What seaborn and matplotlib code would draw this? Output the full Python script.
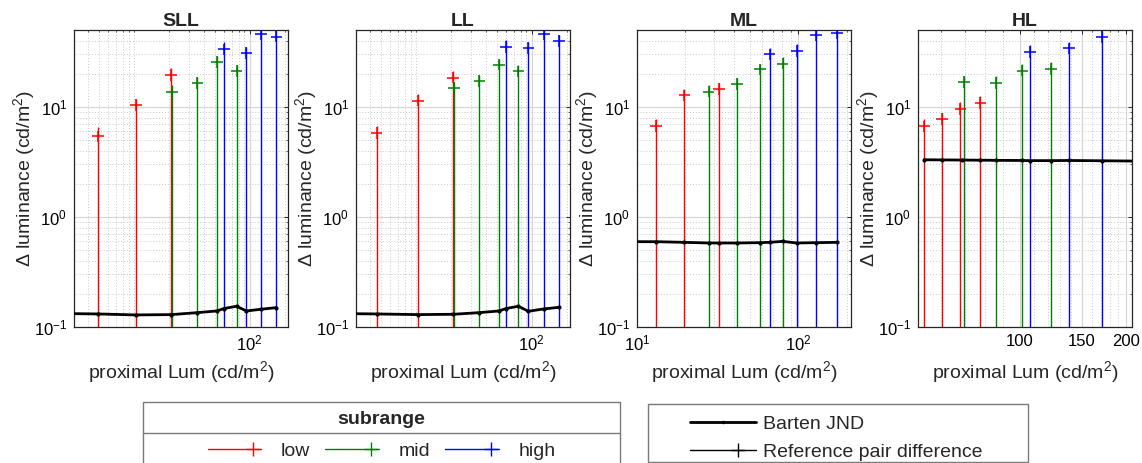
import numpy as np
import pandas as pd
import matplotlib
matplotlib.use("Agg")
import matplotlib.pyplot as plt
import seaborn as sns
from matplotlib.lines import Line2D
from matplotlib.patches import Rectangle
from matplotlib.legend_handler import HandlerBase
from matplotlib.ticker import FixedLocator, FixedFormatter, NullFormatter, LogLocator

# ---------------------------------------------------------------- data
panel_names = ["SLL", "LL", "ML", "HL"]

# reference pairs per luminance level: proximal luminance, difference,
# upper end of the error bar and the subrange of the pair
sll_lum = [4.92, 10.4, 21.0, 21.2, 35.4, 52.0, 59.7, 76.9, 93.7, 124.5, 170.0]
sll_diff = [5.4, 10.4, 19.6, 13.6, 16.6, 25.5, 33.3, 21.1, 31.1, 46.0, 43.5]
sll_top = [6.6, 11.9, 22.4, 15.7, 18.8, 29.0, 38.9, 24.2, 35.2, 53.0, 52.0]
sll_sub = ["low", "low", "low", "mid", "mid", "mid", "high", "mid", "high", "high", "high"]

ll_lum = [4.57, 10.4, 21.0, 21.2, 35.3, 52.3, 59.7, 76.7, 93.5, 127.5, 172.0]
ll_diff = [5.8, 11.4, 18.5, 14.8, 17.3, 24.2, 35.0, 21.0, 34.3, 45.7, 39.5]
ll_top = [6.7, 13.0, 21.1, 16.8, 19.7, 27.4, 40.3, 23.8, 38.9, 52.0, 44.7]
ll_sub = ["low", "low", "low", "mid", "mid", "mid", "high", "mid", "high", "high", "high"]

ml_lum = [13.1, 19.7, 27.8, 32.4, 41.8, 57.9, 66.6, 80.2, 98.1, 129.0, 174.6]
ml_diff = [6.7, 12.7, 13.8, 14.6, 16.2, 21.9, 30.0, 24.8, 32.2, 44.7, 46.6]
ml_top = [7.7, 14.6, 15.9, 16.6, 18.5, 24.8, 34.0, 28.4, 37.0, 51.0, 53.0]
ml_sub = ["low", "low", "mid", "low", "mid", "mid", "high", "mid", "high", "high", "high"]

hl_lum = [53.8, 60.3, 68.0, 69.5, 77.5, 85.6, 101.8, 107.0, 122.7, 137.8, 171.0]
hl_diff = [6.65, 7.77, 9.6, 16.8, 10.9, 16.6, 21.4, 31.7, 22.2, 34.0, 43.0]
hl_top = [7.7, 8.8, 11.0, 19.0, 12.5, 19.0, 24.3, 36.5, 25.5, 38.9, 49.0]
hl_sub = ["low", "low", "low", "mid", "low", "mid", "mid", "high", "mid", "high", "high"]

# Barten JND curve sampled along the proximal luminance axis
sll_jnd_lum = [2.5, 4.92, 10.4, 21.1, 35.4, 52.0, 59.7, 76.9, 93.7, 124.5, 170.0]
sll_jnd = [0.1325, 0.1314, 0.1287, 0.1296, 0.1351, 0.1399, 0.1470, 0.1544, 0.1399, 0.1449, 0.1500]
ll_jnd_lum = [2.5, 4.57, 10.4, 21.1, 35.3, 52.3, 59.7, 76.7, 93.5, 127.5, 172.0]
ll_jnd = [0.1323, 0.1314, 0.1296, 0.1305, 0.1351, 0.1399, 0.1470, 0.1544, 0.1390, 0.1460, 0.1510]
ml_jnd_lum = [9.0, 13.1, 19.7, 27.8, 32.4, 41.8, 57.9, 66.6, 80.2, 98.1, 129.0, 174.6]
ml_jnd = [0.596, 0.596, 0.588, 0.580, 0.580, 0.580, 0.584, 0.588, 0.600, 0.580, 0.584, 0.588]
hl_jnd_lum = [53.8, 60.3, 68.7, 77.5, 85.6, 101.8, 107.0, 122.7, 137.8, 171.0, 240.0]
hl_jnd = [3.31, 3.30, 3.29, 3.28, 3.27, 3.26, 3.25, 3.25, 3.26, 3.24, 3.21]

subranges = ["low", "mid", "high"]
sub_colors = ["#ff0000", "#008000", "#0000ff"]
stem_floor = 0.01  # error bars reach below the axis floor

x_limits = [(3.04, 214), (3.04, 214), (10, 213), (51.6, 208)]
x_major = [[100], [100], [10, 100], [100, 150, 200]]
x_major_labels = [["$10^{2}$"], ["$10^{2}$"], ["$10^{1}$", "$10^{2}$"], ["100", "150", "200"]]
x_minor = [
    [3, 4, 5, 6, 7, 8, 9, 10, 20, 30, 40, 50, 60, 70, 80, 90, 200],
    [3, 4, 5, 6, 7, 8, 9, 10, 20, 30, 40, 50, 60, 70, 80, 90, 200],
    [20, 30, 40, 50, 60, 70, 80, 90, 200],
    [60, 70, 80, 90, 110, 120, 130, 140, 160, 170, 180, 190],
]

pairs = [
    (sll_lum, sll_diff, sll_top, sll_sub, sll_jnd_lum, sll_jnd),
    (ll_lum, ll_diff, ll_top, ll_sub, ll_jnd_lum, ll_jnd),
    (ml_lum, ml_diff, ml_top, ml_sub, ml_jnd_lum, ml_jnd),
    (hl_lum, hl_diff, hl_top, hl_sub, hl_jnd_lum, hl_jnd),
]

# ---------------------------------------------------------------- style
sns.set_theme(style="white")
plt.rcParams["font.family"] = ["Liberation Sans", "DejaVu Sans"]
plt.rcParams["mathtext.fontset"] = "custom"
plt.rcParams["mathtext.rm"] = "Liberation Sans"
plt.rcParams["mathtext.it"] = "Liberation Sans:italic"
plt.rcParams["mathtext.bf"] = "Liberation Sans:bold"

W, H = 1142, 463
fig = plt.figure(figsize=(W / 100, H / 100), dpi=100)
palette = dict(zip(subranges, sub_colors))

ax_left = [74, 356, 637, 918]
ax_w, ax_top, ax_bottom = 214, 30, 327
ax_h = ax_bottom - ax_top
edge = "#262626"

for i, name in enumerate(panel_names):
    lum, diff, top, sub, jl, jv = pairs[i]
    ax = fig.add_axes([ax_left[i] / W, 1 - ax_bottom / H, ax_w / W, ax_h / H])
    ax.set_xscale("log")
    ax.set_yscale("log")
    df = pd.DataFrame({"lum": lum, "diff": diff, "top": top, "subrange": sub})

    for s in subranges:
        d = df[df["subrange"] == s]
        ax.vlines(d["lum"], stem_floor, d["top"], colors=palette[s], lw=1.0, zorder=2)
    sns.scatterplot(data=df, x="lum", y="diff", hue="subrange", palette=palette,
                    marker="+", s=70, linewidth=1.1, legend=False, ax=ax, zorder=3)
    jdf = pd.DataFrame({"lum": jl, "jnd": jv})
    sns.lineplot(data=jdf, x="lum", y="jnd", color="black", lw=2.0, marker="o",
                 markersize=3, markeredgewidth=0, ax=ax, zorder=4, sort=False)

    ax.set_xlim(*x_limits[i])
    ax.set_ylim(0.1, 50)
    ax.xaxis.set_major_locator(FixedLocator(x_major[i]))
    ax.xaxis.set_major_formatter(FixedFormatter(x_major_labels[i]))
    ax.xaxis.set_minor_locator(FixedLocator(x_minor[i]))
    ax.xaxis.set_minor_formatter(NullFormatter())
    ax.yaxis.set_major_locator(FixedLocator([0.1, 1, 10]))
    ax.yaxis.set_major_formatter(FixedFormatter(["$10^{-1}$", "$10^{0}$", "$10^{1}$"]))
    ax.yaxis.set_minor_locator(LogLocator(base=10, subs=np.arange(2, 10)))
    ax.yaxis.set_minor_formatter(NullFormatter())

    ax.grid(which="major", color="#d4d4d4", lw=0.8, ls="-")
    ax.grid(which="minor", color="#c8c8c8", lw=0.7, ls=(0, (1, 2)))
    ax.set_axisbelow(True)
    ax.tick_params(which="both", direction="in", top=True, right=True,
                   colors=edge, labelcolor="black", labelsize=12)
    ax.tick_params(which="major", length=3, width=0.7, pad=5)
    ax.tick_params(which="minor", length=1.5, width=0.5)
    for sp in ax.spines.values():
        sp.set_color(edge)
        sp.set_linewidth(0.9)

    ax.set_title(name, fontsize=14, fontweight="bold", pad=3)
    ax.set_xlabel("proximal Lum (cd/m$^{2}$)", fontsize=14)
    ax.set_ylabel("\u0394 luminance (cd/m$^{2}$)", fontsize=14)
    ax.xaxis.set_label_coords(0.5, -(359 - ax_bottom) / ax_h)
    ax.yaxis.set_label_coords(-(74 - 37) / ax_w, 0.5)


# ---------------------------------------------------------------- legends
class LineMarkHandler(HandlerBase):
    """Legend key: a line with its marker placed at a fraction of the key length."""

    def __init__(self, frac):
        super().__init__()
        self.frac = frac

    def create_artists(self, legend, orig_handle, xdescent, ydescent, width, height,
                       fontsize, trans):
        y = height / 2 - ydescent
        x0 = -xdescent
        line = Line2D([x0, x0 + width], [y, y], color=orig_handle.get_color(),
                      lw=orig_handle.get_linewidth(), transform=trans)
        mark = Line2D([x0 + self.frac * width], [y], color=orig_handle.get_color(),
                      marker=orig_handle.get_marker(), markersize=orig_handle.get_markersize(),
                      markeredgewidth=orig_handle.get_markeredgewidth(), ls="none",
                      transform=trans)
        return [line, mark]


sub_handles = [Line2D([], [], color=c, lw=1.0, marker="+", markersize=10, markeredgewidth=1.0)
               for c in sub_colors]
leg1 = fig.legend(sub_handles, subranges, ncol=3, loc="center",
                  bbox_to_anchor=(381.5 / W, 1 - 451 / H), frameon=False, fontsize=14,
                  handlelength=2.75, handletextpad=1.0, columnspacing=0.8,
                  borderpad=0, borderaxespad=0,
                  handler_map={Line2D: LineMarkHandler(0.85)})
fig.text(381.5 / W, 1 - 419 / H, "subrange", ha="center", va="center",
         fontsize=14, fontweight="bold")
fig.add_artist(Rectangle((142.7 / W, 1 - 475 / H), (620 - 142.7) / W, (475 - 401.7) / H,
                         transform=fig.transFigure, fill=False, ec="#7a7a7a", lw=1.0))
fig.add_artist(Line2D([142.7 / W, 620 / W], [1 - 433 / H, 1 - 433 / H],
                      transform=fig.transFigure, color="#7a7a7a", lw=1.0))

jnd_handle = Line2D([], [], color="black", lw=2.0, marker="o", markersize=2.5, markeredgewidth=0)
ref_handle = Line2D([], [], color="black", lw=1.0, marker="+", markersize=10, markeredgewidth=1.0)
leg2 = fig.legend([jnd_handle, ref_handle], ["Barten JND", "Reference pair difference"],
                  loc="upper left", bbox_to_anchor=(690 / W, 1 - 415 / H), frameon=False,
                  fontsize=14, handlelength=3.4, handletextpad=0.35, labelspacing=0.55,
                  borderpad=0, borderaxespad=0,
                  handler_map={jnd_handle: LineMarkHandler(0.5), ref_handle: LineMarkHandler(0.72)})
fig.add_artist(Rectangle((648 / W, 1 - 461.7 / H), (1028 - 648) / W, (461.7 - 404) / H,
                         transform=fig.transFigure, fill=False, ec="#7a7a7a", lw=1.0))

fig.savefig("out.png", dpi=100)
